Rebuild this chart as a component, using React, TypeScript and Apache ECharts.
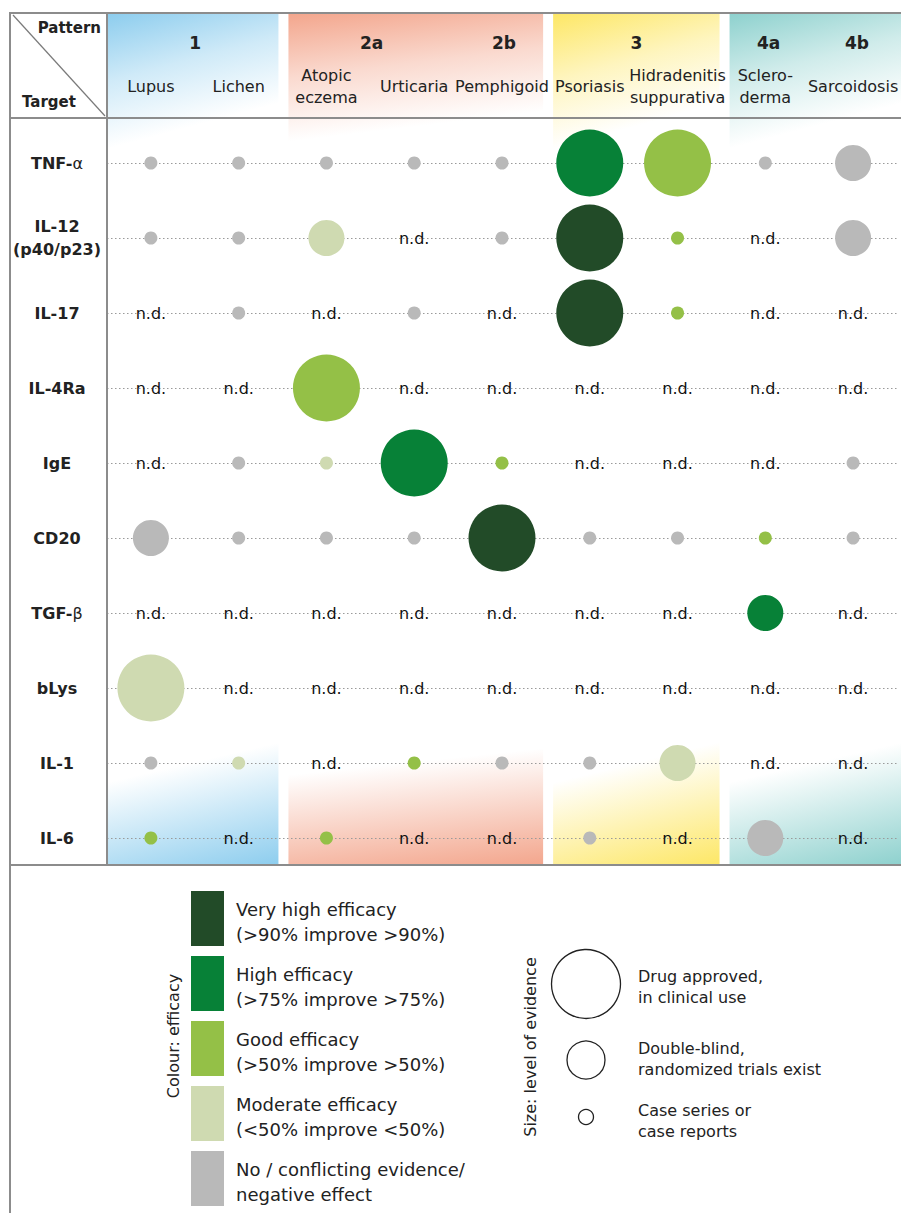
import React, { useEffect, useRef } from 'react';
import * as echarts from 'echarts';

// ---------- data ----------
const diseases = ['Lupus', 'Lichen', 'Atopic\neczema', 'Urticaria', 'Pemphigoid', 'Psoriasis', 'Hidradenitis\nsuppurativa', 'Sclero-\nderma', 'Sarcoidosis'];
const targets = ['TNF-α', 'IL-12\n(p40/p23)', 'IL-17', 'IL-4Ra', 'IgE', 'CD20', 'TGF-β', 'bLys', 'IL-1', 'IL-6'];

const patternLabels = ['1', '2a', '2b', '3', '4a', '4b'];
const patternLabelSpans = [[0, 1], [2, 3], [4, 4], [5, 6], [7, 7], [8, 8]];
const patternBands = [[0, 1], [2, 4], [5, 6], [7, 8]];

// cell code: letter = efficacy (V very high, H high, G good, M moderate, N none/conflicting),
// digit = level of evidence (1 case series, 2 double-blind RCT, 3 approved); '' = n.d.
const rowTNFa = ['N1', 'N1', 'N1', 'N1', 'N1', 'H3', 'G3', 'N1', 'N2'];
const rowIL12 = ['N1', 'N1', 'M2', '', 'N1', 'V3', 'G1', '', 'N2'];
const rowIL17 = ['', 'N1', '', 'N1', '', 'V3', 'G1', '', ''];
const rowIL4Ra = ['', '', 'G3', '', '', '', '', '', ''];
const rowIgE = ['', 'N1', 'M1', 'H3', 'G1', '', '', '', 'N1'];
const rowCD20 = ['N2', 'N1', 'N1', 'N1', 'V3', 'N1', 'N1', 'G1', 'N1'];
const rowTGFb = ['', '', '', '', '', '', '', 'H2', ''];
const rowBLys = ['M3', '', '', '', '', '', '', '', ''];
const rowIL1 = ['N1', 'M1', '', 'G1', 'N1', 'N1', 'M2', '', ''];
const rowIL6 = ['G1', '', 'G1', '', '', 'N1', '', 'N2', ''];
const cells = [rowTNFa, rowIL12, rowIL17, rowIL4Ra, rowIgE, rowCD20, rowTGFb, rowBLys, rowIL1, rowIL6];

const efficacyCodes = ['V', 'H', 'G', 'M', 'N'];
const efficacyLabels = [
  'Very high efficacy\n(>90% improve >90%)',
  'High efficacy\n(>75% improve >75%)',
  'Good efficacy\n(>50% improve >50%)',
  'Moderate efficacy\n(<50% improve <50%)',
  'No / conflicting evidence/\nnegative effect',
];
const evidenceLevels = [3, 2, 1];
const evidenceLabels = ['Drug approved,\nin clinical use', 'Double-blind,\nrandomized trials exist', 'Case series or\ncase reports'];

// ---------- styles ----------
const FONT = 'DejaVu Sans';
const TEXT = '#222222';
const efficacyColors: Record<string, string> = {
  V: '#224b28',
  H: '#078137',
  G: '#94c047',
  M: '#cfdab1',
  N: '#b9b9b9',
};
const evidenceSize = (lvl: number) => [13, 36, 67][lvl - 1];
const bandColors = ['#8dcdee', '#f3a68d', '#fde766', '#8ed1ce'];
const LINE = '#8c8c8c';

function rgba(hex: string, a: number) {
  const n = parseInt(hex.slice(1), 16);
  return `rgba(${(n >> 16) & 255},${(n >> 8) & 255},${n & 255},${a})`;
}

const GL = 107;
const GR = 901;
const GT = 163;
const GH = 675;
const TABLE_BOTTOM = 865;

function txt(x: number, y: number, text: string, o: any = {}) {
  return {
    type: 'text',
    x,
    y,
    z: 10,
    rotation: o.rotation || 0,
    style: {
      text,
      fill: TEXT,
      fontFamily: FONT,
      fontSize: o.size || 16,
      fontWeight: o.weight || 'normal',
      lineHeight: o.lineHeight || 22,
      align: o.align || 'left',
      textAlign: o.align || 'left',
      verticalAlign: 'middle',
      textVerticalAlign: 'middle',
    },
  };
}

function buildOption() {
  const colW = (GR - GL) / diseases.length;
  const graphics: any[] = [];

  // pattern bands (gradients)
  const topH = 140;
  const botY = 735;
  const botH = TABLE_BOTTOM - botY;
  patternBands.forEach(([a, b], i) => {
    const x0 = GL + a * colW + (a === 0 ? 1 : 5);
    const x1 = GL + (b + 1) * colW - (b === diseases.length - 1 ? 0 : 5);
    const w = x1 - x0;
    const c = bandColors[i];
    graphics.push({
      type: 'rect',
      z: -10,
      silent: true,
      shape: { x: x0, y: 14, width: w, height: topH },
      style: {
        fill: new echarts.graphic.LinearGradient(0, 0, 48 / w, 122 / topH, [
          { offset: 0, color: rgba(c, 1) },
          { offset: 0.5, color: rgba(c, 0.42) },
          { offset: 1, color: rgba(c, 0) },
        ]),
      },
    });
    graphics.push({
      type: 'rect',
      z: -10,
      silent: true,
      shape: { x: x0, y: botY, width: w, height: botH },
      style: {
        fill: new echarts.graphic.LinearGradient((w - 45) / w, (botH - 112) / botH, 1, 1, [
          { offset: 0, color: rgba(c, 0) },
          { offset: 1, color: rgba(c, 1) },
        ]),
      },
    });
  });

  // table lines
  const line = (x1: number, y1: number, x2: number, y2: number, w = 2, col = LINE) => ({
    type: 'line',
    z: 10,
    silent: true,
    shape: { x1, y1, x2, y2 },
    style: { stroke: col, lineWidth: w },
  });
  graphics.push(line(9, 13, 901, 13));
  graphics.push(line(10, 12, 10, 1213));
  graphics.push(line(107, 12, 107, TABLE_BOTTOM));
  graphics.push(line(9, 118, 901, 118));
  graphics.push(line(9, TABLE_BOTTOM, 901, TABLE_BOTTOM));
  graphics.push(line(13, 15, 105, 116, 1.2, '#7a7a7a'));

  // corner labels
  graphics.push(txt(101, 28, 'Pattern', { weight: 'bold', size: 15, align: 'right' }));
  graphics.push(txt(22, 102, 'Target', { weight: 'bold', size: 15, align: 'left' }));

  // pattern labels
  patternLabels.forEach((p, i) => {
    const [a, b] = patternLabelSpans[i];
    const cx = GL + ((a + b + 1) / 2) * colW;
    graphics.push(txt(cx, 43, p, { weight: 'bold', size: 17, align: 'center' }));
  });

  // colour legend
  efficacyCodes.forEach((code, i) => {
    const y = 891 + i * 65;
    graphics.push({
      type: 'rect',
      z: 10,
      silent: true,
      shape: { x: 191, y, width: 33, height: 55 },
      style: { fill: efficacyColors[code] },
    });
    graphics.push(txt(236, y + 31, efficacyLabels[i], { size: 18, lineHeight: 25 }));
  });
  graphics.push(txt(173, 1036, 'Colour: efficacy', { size: 16, align: 'center', rotation: Math.PI / 2 }));

  // size legend
  const sizeY = [984, 1060, 1117];
  const sizeTextY = [987, 1059, 1121];
  evidenceLevels.forEach((lvl, i) => {
    graphics.push({
      type: 'circle',
      z: 10,
      silent: true,
      shape: { cx: 586, cy: sizeY[i], r: (evidenceSize(lvl) + 2) / 2 },
      style: { fill: 'none', stroke: '#222', lineWidth: 1.3 },
    });
    graphics.push(txt(638, sizeTextY[i], evidenceLabels[i], { size: 16, lineHeight: 21 }));
  });
  graphics.push(txt(530, 1047, 'Size: level of evidence', { size: 16, align: 'center', rotation: Math.PI / 2 }));

  // series
  const series: any[] = efficacyCodes.map((code) => {
    const data: number[][] = [];
    cells.forEach((row, r) =>
      row.forEach((cell, c) => {
        if (cell && cell[0] === code) data.push([c, r, Number(cell[1])]);
      })
    );
    return {
      type: 'scatter',
      name: code,
      data,
      clip: false,
      silent: true,
      z: 3,
      symbol: 'circle',
      symbolSize: (v: number[]) => evidenceSize(v[2]),
      itemStyle: { color: efficacyColors[code], opacity: 1 },
    };
  });
  const ndData: number[][] = [];
  cells.forEach((row, r) => row.forEach((cell, c) => { if (!cell) ndData.push([c, r]); }));
  series.push({
    type: 'scatter',
    name: 'n.d.',
    data: ndData,
    clip: false,
    silent: true,
    z: 4,
    symbol: 'circle',
    symbolSize: 1,
    itemStyle: { color: 'rgba(255,255,255,0)' },
    label: {
      show: true,
      position: 'inside',
      formatter: 'n.d.',
      fontFamily: FONT,
      fontSize: 16,
      color: '#111111',
      opacity: 1,
      textBorderWidth: 0,
    },
  });

  return {
    animation: false,
    backgroundColor: '#ffffff',
    textStyle: { fontFamily: FONT },
    grid: { left: GL, top: GT, width: GR - GL, height: GH },
    xAxis: {
      type: 'category',
      position: 'top',
      data: diseases,
      axisLine: { show: false },
      axisTick: { show: false },
      splitLine: { show: false },
      axisLabel: {
        interval: 0,
        margin: 77,
        fontFamily: FONT,
        fontSize: 16,
        lineHeight: 22,
        verticalAlign: 'middle',
        color: TEXT,
      },
    },
    yAxis: {
      type: 'category',
      inverse: true,
      boundaryGap: false,
      data: targets,
      axisLine: { show: false },
      axisTick: { show: false },
      splitLine: { show: true, lineStyle: { type: [1.5, 2.5], color: '#9a9a9a', width: 1.2 } },
      axisLabel: {
        interval: 0,
        margin: 50,
        align: 'center',
        fontFamily: FONT,
        fontSize: 16,
        fontWeight: 'bold',
        lineHeight: 23,
        color: TEXT,
        formatter: (v: string) => v.replace('α', '{g|α}').replace('β', '{g|β}'),
        rich: { g: { fontFamily: FONT, fontSize: 16, fontWeight: 'normal', color: TEXT } },
      },
    },
    series,
    graphic: { elements: graphics },
  };
}

export default function App() {
  const ref = useRef<HTMLDivElement>(null);
  useEffect(() => {
    if (!ref.current) return;
    const chart = echarts.init(ref.current, undefined, { renderer: 'svg' });
    chart.setOption(buildOption() as any);
    return () => chart.dispose();
  }, []);
  return (
    <div
      ref={ref}
      style={{ position: 'absolute', left: 0, top: 0, width: 901, height: 1213, background: '#fff' }}
    />
  );
}
